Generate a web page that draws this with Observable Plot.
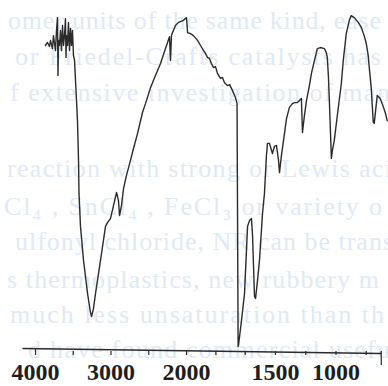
<!DOCTYPE html>
<html>
<head>
<meta charset="utf-8">
<script src="https://cdn.jsdelivr.net/npm/d3@7"></script>
<script src="https://cdn.jsdelivr.net/npm/@observablehq/plot@0.6"></script>
<style>
  html, body { margin: 0; padding: 0; background: #fff; }
  #wrap { position: relative; width: 388px; height: 386px; overflow: hidden; background: #fff; }
  #wrap > svg { position: absolute; left: 0; top: 0; }
</style>
</head>
<body>
<div id="wrap"></div>
<script>
// IR spectrum, wavenumber (cm-1) vs transmittance (%)
const wavenumbers = [3868,3841,3815,3801,3775,3762,3735,3722,3709,3702,3695,3682,3669,3656,3642,3629,3616,3603,3596,3589,3576,3563,3550,3536,3523,3510,3497,3483,3470,3444,3430,3424,3404,3364,3311,3272,3258,3232,3205,3139,3073,3046,3007,2967,2927,2901,2887,2861,2834,2795,2742,2702,2649,2583,2543,2477,2411,2344,2278,2225,2212,2199,2185,2146,2106,2040,2000,1994,1978,1961,1938,1921,1904,1893,1882,1871,1860,1848,1837,1826,1809,1798,1787,1770,1758,1742,1725,1716,1710,1708,1691,1674,1657,1646,1635,1629,1618,1612,1601,1590,1579,1573,1562,1551,1545,1534,1522,1517,1506,1492,1475,1467,1451,1426,1409,1385,1360,1343,1319,1302,1286,1277,1261,1244,1220,1203,1178,1154,1129,1096,1080,1072,1063,1055,1038,1030,1014,989,956,940,915,890,874,849,816,791,767,750,734,725,709,692,684,668,659,635,618,593,577];
const transmittance = [90.0,90.9,89.7,91.5,89.1,92.9,88.5,94.4,98.2,81.2,91.5,90.0,94.4,88.5,95.9,90.0,92.9,97.9,86.5,92.9,90.0,96.8,88.5,95.0,90.0,94.4,87.1,85.6,79.7,67.9,56.2,46.5,36.8,26.8,17.1,11.5,10.3,12.6,17.1,26.8,36.8,37.9,39.1,42.9,46.8,44.4,40.0,42.9,47.9,51.8,56.2,59.7,64.1,70.3,72.9,77.6,81.2,84.7,89.1,92.6,85.6,92.9,93.8,95.9,96.8,97.4,98.2,93.8,93.5,92.9,91.5,90.0,88.5,87.6,86.5,86.2,84.7,83.5,83.8,81.8,80.3,80.6,79.1,78.2,78.5,76.8,74.7,72.9,1.5,1.8,9.1,17.1,36.8,38.5,39.1,34.1,16.2,15.6,20.9,26.8,35.6,40.6,46.5,57.6,61.2,61.2,59.1,58.2,60.3,60.6,56.2,52.6,57.6,64.1,68.5,71.8,72.9,73.2,73.2,73.8,74.4,64.4,69.4,73.8,78.2,81.8,85.6,89.1,89.4,89.1,87.9,86.5,81.2,73.8,56.8,59.1,62.1,69.4,78.8,85.6,93.5,97.4,98.8,98.2,96.8,95.3,92.9,90.6,87.1,83.5,77.6,67.4,67.1,72.4,75.3,74.4,72.9,70.3,67.9];

// axis: scale knots (wavenumbers), tick marks and labelled ticks
const scaleKnots = [4000, 2000, 1500, 500];
const tickValues = [4000, 3500, 3000, 2500, 2000, 1835, 1670, 1500, 1250, 1000, 750];
const tickLabels = [4000, 3000, 2000, 1500, 1000];
const axisExtent = [4172, 626];

// faint bleed-through text of the scanned page
const pageLines = [
  "omer units of the same kind, ease",
  "or Friedel-Crafts catalysts has",
  "f extensive investigation of man",
  "reaction with strong or Lewis aci",
  "Cl\u2084 , SnCl\u2084 , FeCl\u2083 or variety o",
  "ulfonyl chloride, NR can be trans",
  "s thermoplastics, new rubbery m",
  "much less unsaturation than th",
  "d have found commercial usefu"
];

const spectrum = wavenumbers.map((w, i) => ({w, t: transmittance[i]}));

const W = 388, H = 386;
const wrap = document.getElementById("wrap");

// background page text (layout only)
const pageLayout = [
  [8, 29, 373], [15, 65, 366], [10, 101, 380], [7, 177, 385], [4, 215, 378],
  [15, 250, 378], [7, 288, 372], [10, 323, 374], [28, 358, 362]
];
const bg = d3.create("svg").attr("width", W).attr("height", H);
bg.selectAll("text").data(pageLines).join("text")
  .attr("x", (d, i) => pageLayout[i][0])
  .attr("y", (d, i) => pageLayout[i][1])
  .attr("textLength", (d, i) => pageLayout[i][2])
  .attr("lengthAdjust", "spacing")
  .attr("font-family", "Liberation Serif, serif")
  .attr("font-size", 26)
  .attr("fill", "#e1e9f4")
  .text(d => d);
wrap.appendChild(bg.node());

const chart = Plot.plot({
  width: W,
  height: H,
  marginTop: 0, marginLeft: 0, marginRight: 0, marginBottom: 35,
  style: {background: "transparent", overflow: "visible"},
  x: {type: "linear", domain: scaleKnots, range: [35, 186, 275, 396], axis: null, label: null},
  y: {domain: [0, 100], range: [351, 11], axis: null, label: null},
  marks: [
    Plot.link([axisExtent], {x1: d => d[0], x2: d => d[1], y1: 0.9, y2: -0.6, stroke: "#2a2a2a", strokeWidth: 1.4}),
    Plot.axisX(tickValues, {tickSize: 4, tickFormat: () => "", label: null, stroke: "#2a2a2a", strokeWidth: 1.2}),
    Plot.axisX([tickValues[0]], {anchor: "top", tickSize: 4, tickFormat: () => "", label: null, dy: 351, stroke: "#2a2a2a", strokeWidth: 1.2}),
    Plot.axisX([axisExtent[1]], {tickSize: 14, tickFormat: () => "", label: null, stroke: "#2a2a2a", strokeWidth: 1.2}),
    Plot.axisX(tickLabels, {
      tickSize: 0, tickPadding: 11, label: null,
      tickFormat: d => String(d),
      fontSize: 24, fontWeight: "bold", fontFamily: "Liberation Serif, serif",
      fill: "#1e1e1e"
    }),
    Plot.line(spectrum, {x: "w", y: "t", stroke: "#2b2b2b", strokeWidth: 1.4, strokeLinejoin: "round", curve: "linear"})
  ]
});
wrap.appendChild(chart);
</script>
</body>
</html>
